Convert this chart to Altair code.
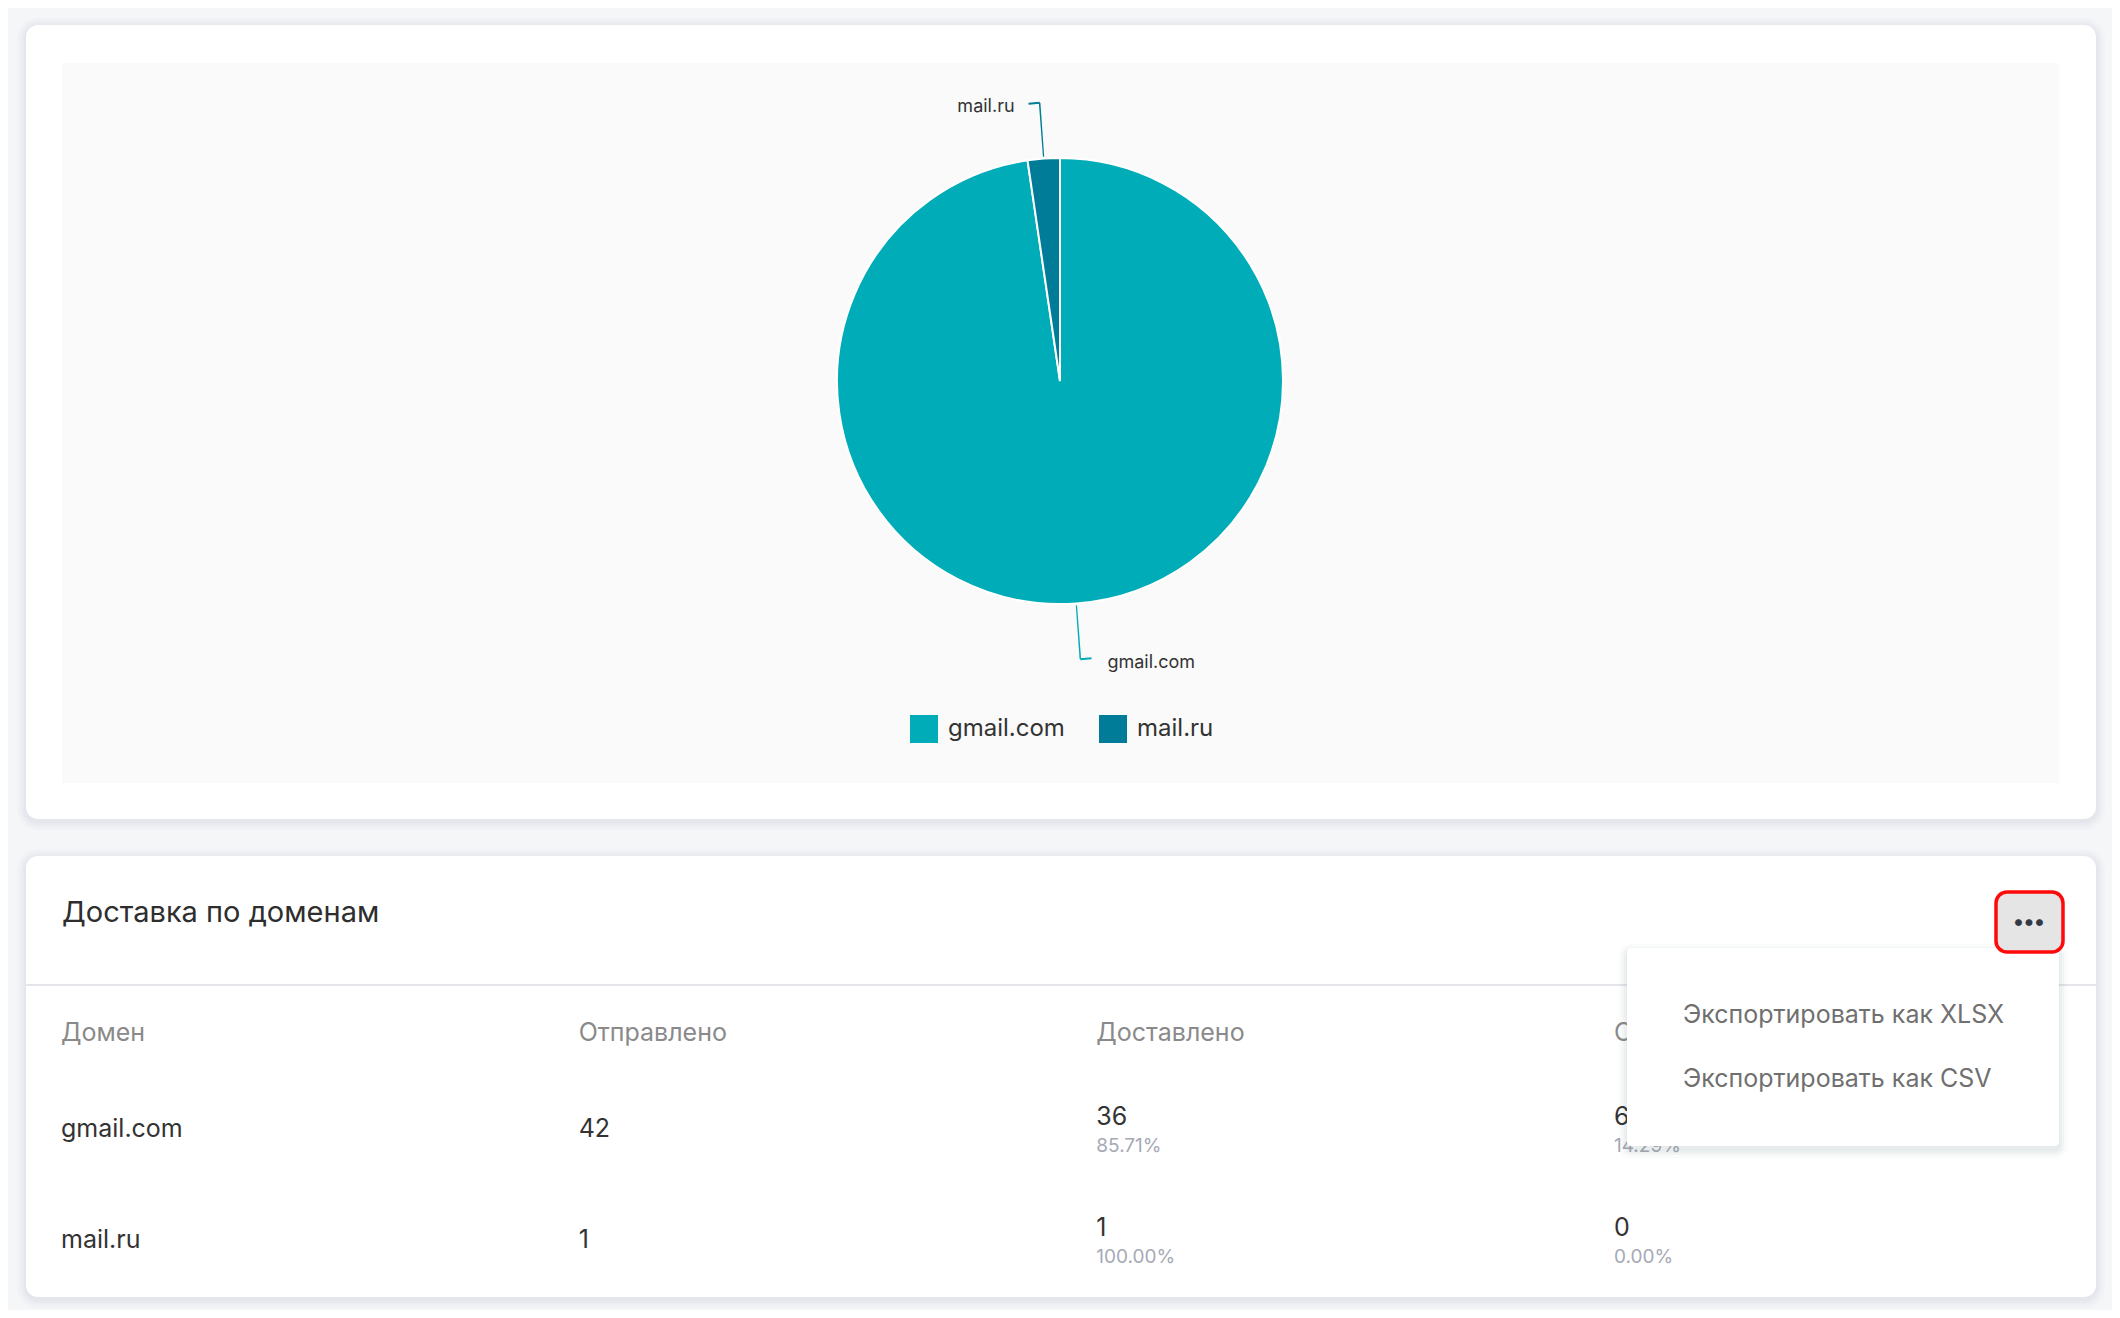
import math
import altair as alt
import pandas as pd

# ---------------- data ----------------
domains = ["gmail.com", "mail.ru"]
sent = [42, 1]
delivered = [36, 1]
delivered_pct = ["85.71%", "100.00%"]
failed = [6, 0]
failed_pct = ["14.29%", "0.00%"]
headers = ["Домен", "Отправлено", "Доставлено", "Отклонено"]
slice_colors = ["#00acb8", "#007c98"]
table_title = "Доставка по доменам"
menu_items = ["Экспортировать как XLSX", "Экспортировать как CSV"]

FONT = "Inter"
W, H = 2104, 1302

# ---------------- pie geometry derived from data ----------------
total = sum(sent)
starts, ends, mids = [], [], []
acc = 0
for v in sent:
    starts.append(acc)
    ends.append(acc + v)
    mids.append(acc + v / 2)
    acc += v
unit = total / (2 * math.pi)  # value units per radian
eps = 0.0028 * unit
hook = 0.04 * unit
pie = pd.DataFrame({
    "domain": domains, "value": sent, "start": starts, "end": ends, "mid": mids,
    "l0": [m - eps for m in mids], "l1": [m + eps for m in mids],
    "h0": [m - hook for m in mids], "h1": mids,
})
pie["side"] = ["right" if m < total / 2 else "left" for m in mids]

theta_scale = alt.Scale(domain=[0, total], range=[0, 2 * math.pi])
color_scale = alt.Scale(domain=domains, range=slice_colors)
CX, CY = 1052, 373

one = pd.DataFrame({"k": [0]})


def rect(x, x2, y, y2, fill, radius=0, opacity=1.0, stroke=None, sw=0):
    kw = dict(fill=fill, cornerRadius=radius, opacity=opacity)
    if stroke:
        kw.update(stroke=stroke, strokeWidth=sw)
    return alt.Chart(one).mark_rect(**kw).encode(
        x=alt.value(x), x2=alt.value(x2), y=alt.value(y), y2=alt.value(y2))


def shadow(x, x2, y, y2, radius, steps=(2, 4, 6, 9), dy=2, op=0.022):
    return [rect(x - k, x2 + k, y - k + dy, y2 + k + dy, "#5a6478", radius + k, op)
            for k in steps]


layers = []
# cards
layers += shadow(18, 2088, 17, 811, 12)
layers.append(rect(18, 2088, 17, 811, "#ffffff", 12))
layers.append(rect(54, 2051, 55, 775, "#fafafa", 0))
layers += shadow(18, 2088, 848, 1289, 12)
layers.append(rect(18, 2088, 848, 1289, "#ffffff", 12))

# pie slices
base = alt.Chart(pie)
arcs = base.mark_arc(outerRadius=223, stroke="#ffffff", strokeWidth=2).encode(
    theta=alt.Theta("start:Q", scale=theta_scale),
    theta2="end:Q",
    color=alt.Color("domain:N", scale=color_scale, legend=alt.Legend(
        orient="none", legendX=902, legendY=707, direction="horizontal",
        symbolType="square", symbolSize=784, symbolStrokeWidth=0,
        labelFontSize=24, labelFont=FONT, labelColor="#333333",
        columnPadding=34, labelOffset=10, title=None, padding=0)),
    x=alt.value(CX), y=alt.value(CY),
)
leaders = base.mark_arc(innerRadius=225, outerRadius=279, strokeWidth=0).encode(
    theta=alt.Theta("l0:Q", scale=theta_scale), theta2="l1:Q",
    color=alt.Color("domain:N", scale=color_scale),
    x=alt.value(CX), y=alt.value(CY),
)
hooks = base.mark_arc(innerRadius=278, outerRadius=280, strokeWidth=0).encode(
    theta=alt.Theta("h0:Q", scale=theta_scale), theta2="h1:Q",
    color=alt.Color("domain:N", scale=color_scale),
    x=alt.value(CX), y=alt.value(CY),
)
lab_r = base.transform_filter(alt.datum.side == "right").mark_text(
    radius=280, align="left", baseline="middle", dx=27, dy=3,
    fontSize=18, font=FONT, color="#333333").encode(
    theta=alt.Theta("mid:Q", scale=theta_scale, stack=None), text="domain:N",
    x=alt.value(CX), y=alt.value(CY))
lab_l = base.transform_filter(alt.datum.side == "left").mark_text(
    radius=280, align="right", baseline="middle", dx=-25, dy=5,
    fontSize=18, font=FONT, color="#333333").encode(
    theta=alt.Theta("mid:Q", scale=theta_scale, stack=None), text="domain:N",
    x=alt.value(CX), y=alt.value(CY))
layers += [arcs, leaders, hooks, lab_r, lab_l]

# table card
layers.append(alt.Chart(pd.DataFrame({"t": [table_title]})).mark_text(
    align="left", baseline="alphabetic", fontSize=29, font=FONT, color="#2e2e2e").encode(
    text="t:N", x=alt.value(54), y=alt.value(914)))
layers.append(alt.Chart(one).mark_rule(color="#e4e4ea", strokeWidth=2).encode(
    x=alt.value(18), x2=alt.value(2088), y=alt.value(977)))

xs = alt.Scale(domain=[0, 3], range=[53, 1606], zero=False, nice=False)
ys = alt.Scale(domain=[1, 2], range=[1129, 1240], zero=False, nice=False)

hdr = pd.DataFrame({"col": list(range(len(headers))), "t": headers})
layers.append(alt.Chart(hdr).mark_text(
    align="left", baseline="alphabetic", fontSize=25, font=FONT, color="#8a8a8a").encode(
    x=alt.X("col:Q", scale=xs, axis=None), y=alt.value(1033), text="t:N"))

main_rows = []
for i, d in enumerate(domains):
    main_rows.append({"col": 0, "row": i + 1, "t": d})
    main_rows.append({"col": 1, "row": i + 1, "t": str(sent[i])})
top_rows, sub_rows = [], []
for i in range(len(domains)):
    top_rows.append({"col": 2, "row": i + 1, "t": str(delivered[i])})
    top_rows.append({"col": 3, "row": i + 1, "t": str(failed[i])})
    sub_rows.append({"col": 2, "row": i + 1, "t": delivered_pct[i]})
    sub_rows.append({"col": 3, "row": i + 1, "t": failed_pct[i]})


def cells(rows, size, color, dy):
    return alt.Chart(pd.DataFrame(rows)).mark_text(
        align="left", baseline="alphabetic", fontSize=size, font=FONT,
        color=color, dy=dy).encode(
        x=alt.X("col:Q", scale=xs, axis=None),
        y=alt.Y("row:Q", scale=ys, axis=None), text="t:N")


layers.append(cells(main_rows, 25, "#333333", 0))
layers.append(cells(top_rows, 25, "#333333", -12))
layers.append(cells(sub_rows, 19, "#a6a9b6", 15))

# dropdown menu
layers += shadow(1619, 2051, 940, 1138, 4, steps=(1, 3, 5, 8), dy=4, op=0.035)
layers.append(rect(1619, 2051, 940, 1138, "#ffffff", 4))
for j, item in enumerate(menu_items):
    layers.append(alt.Chart(pd.DataFrame({"t": [item]})).mark_text(
        align="left", baseline="alphabetic", fontSize=25, font=FONT, color="#707070").encode(
        text="t:N", x=alt.value(1675), y=alt.value(1015 + 64 * j)))

# button
layers.append(rect(1988, 2055, 884, 944, "#e5e5e5", 11, stroke="#ff0a0a", sw=3.5))
layers.append(alt.Chart(pd.DataFrame({"t": ["•••"]})).mark_text(
    align="center", baseline="middle", fontSize=22, fontWeight="bold", font=FONT,
    color="#333a45").encode(text="t:N", x=alt.value(2021), y=alt.value(914)))

chart = alt.layer(*layers).properties(
    width=W, height=H, background="#f5f6f8", padding=0,
    autosize=alt.AutoSizeParams(type="none"),
).configure_view(stroke=None)

chart.save("out.html", embed_options={"renderer": "svg", "actions": False})
